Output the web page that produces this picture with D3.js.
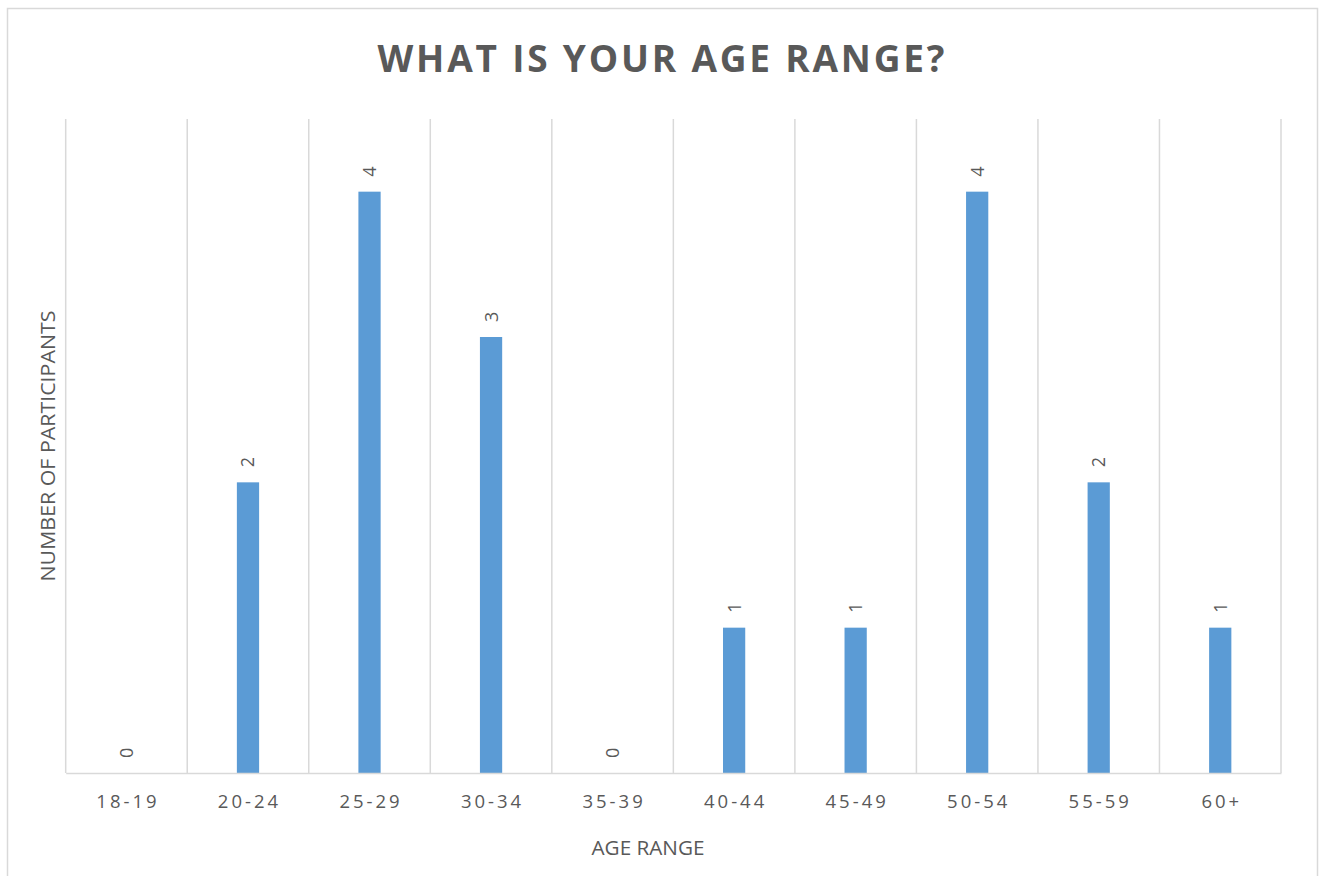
<!DOCTYPE html>
<html>
<head>
<meta charset="utf-8">
<script src="https://cdn.jsdelivr.net/npm/d3@7/dist/d3.min.js"></script>
<style>
  html, body { margin: 0; padding: 0; background: #ffffff; }
  svg { display: block; }
  text { font-family: "Open Sans", "Liberation Sans", sans-serif; fill: #595959; }
</style>
</head>
<body>
<svg id="chart" width="1323" height="876"></svg>
<script>
// Survey responses: participants per age range
const categories = ["18-19", "20-24", "25-29", "30-34", "35-39", "40-44", "45-49", "50-54", "55-59", "60+"];
const counts = [0, 2, 4, 3, 0, 1, 1, 4, 2, 1];
const chartTitle = "WHAT IS YOUR AGE RANGE?";
const xTitle = "AGE RANGE";
const yTitle = "NUMBER OF PARTICIPANTS";

const svg = d3.select("#chart");
const plot = { left: 65.7, right: 1281, top: 119, bottom: 773 };

// Chart-area frame (bottom edge runs past the viewport)
svg.append("rect")
  .attr("x", 7.5).attr("y", 8.5)
  .attr("width", 1310).attr("height", 880)
  .attr("fill", "#ffffff")
  .attr("stroke", "#d9d9d9")
  .attr("stroke-width", 1.5);

const x = d3.scaleBand().domain(categories).range([plot.left, plot.right]).padding(0);
const y = d3.scaleLinear().domain([0, 4.5]).range([plot.bottom, plot.top]);
const barW = x.bandwidth() * 0.183;

// Vertical gridlines at category boundaries
const edges = categories.map(c => x(c)).concat([plot.right]);
svg.append("g").selectAll("line").data(edges).join("line")
  .attr("x1", d => d).attr("x2", d => d)
  .attr("y1", plot.top).attr("y2", plot.bottom)
  .attr("stroke", "#d9d9d9").attr("stroke-width", 1.5);

// Bars
svg.append("g").selectAll("rect").data(counts).join("rect")
  .attr("x", (d, i) => x(categories[i]) + x.bandwidth() / 2 - barW / 2)
  .attr("width", barW)
  .attr("y", d => y(d))
  .attr("height", d => y(0) - y(d))
  .attr("fill", "#5b9bd5");

// Category axis
const xAxis = svg.append("g")
  .attr("transform", `translate(0,${plot.bottom})`)
  .call(d3.axisBottom(x).tickSize(0).tickPadding(0));
xAxis.select(".domain").attr("stroke", "#d9d9d9").attr("stroke-width", 1.5);
xAxis.selectAll(".tick text")
  .attr("y", 35).attr("dy", 0)
  .attr("dx", 1.5)
  .style("font-size", "18.5px")
  .style("letter-spacing", "3px")
  .style("fill", "#595959")
  .style("font-family", "'Open Sans', sans-serif");

// Value labels, rotated above each bar
svg.append("g").selectAll("text").data(counts).join("text")
  .attr("transform", (d, i) => `translate(${x(categories[i]) + x.bandwidth() / 2},${y(d) - 15}) rotate(-90)`)
  .attr("dy", "0.36em")
  .attr("text-anchor", "start")
  .style("font-size", "18px")
  .text(d => d);

// Title
svg.append("text")
  .attr("x", 661).attr("y", 72)
  .attr("text-anchor", "middle")
  .attr("textLength", 567).attr("lengthAdjust", "spacing")
  .style("font-size", "37px").style("font-weight", "bold")
  .text(chartTitle);

// Axis titles
svg.append("text")
  .attr("x", 648).attr("y", 855)
  .attr("text-anchor", "middle")
  .attr("textLength", 113).attr("lengthAdjust", "spacingAndGlyphs")
  .style("font-size", "20px")
  .text(xTitle);

svg.append("text")
  .attr("transform", `translate(55,${(plot.top + plot.bottom) / 2}) rotate(-90)`)
  .attr("text-anchor", "middle")
  .attr("textLength", 271).attr("lengthAdjust", "spacingAndGlyphs")
  .style("font-size", "20px")
  .text(yTitle);
</script>
</body>
</html>
